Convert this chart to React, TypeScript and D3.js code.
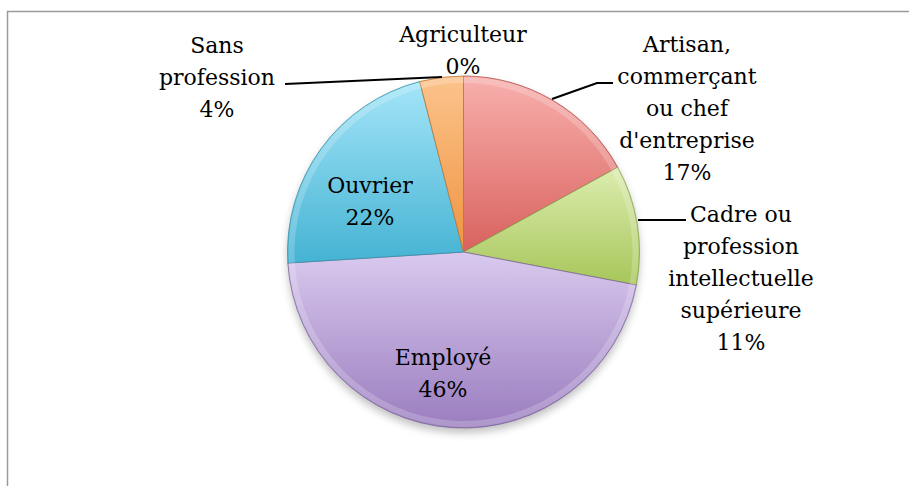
import React, { useEffect, useRef } from 'react';
import * as d3 from 'd3';

// categories, clockwise from 12 o'clock
const categories = [
  'Agriculteur',
  'Artisan, commerçant ou chef d\'entreprise',
  'Cadre ou profession intellectuelle supérieure',
  'Employé',
  'Ouvrier',
  'Sans profession',
];
const values = [0, 17, 11, 46, 22, 4];
// how each label is broken into lines
const labelLines = [
  ['Agriculteur'],
  ['Artisan,', 'commerçant', 'ou chef', "d'entreprise"],
  ['Cadre ou', 'profession', 'intellectuelle', 'supérieure'],
  ['Employé'],
  ['Ouvrier'],
  ['Sans', 'profession'],
];
const colorsTop = ['#7fa7d8', '#f8b0ad', '#dcedaf', '#d9c9ee', '#a4e5f8', '#fcc38c'];
const colorsBottom = ['#4f81bd', '#d9625e', '#a7c65a', '#9a7dbf', '#45b3d3', '#ef9440'];

const App = () => {
  const svgRef = useRef<SVGSVGElement>(null);

  useEffect(() => {
    const width = 909;
    const height = 486;
    const cx = 463.5;
    const cy = 252;
    const radius = 176;

    const svg = d3.select(svgRef.current)
      .attr('width', width)
      .attr('height', height);
    svg.selectAll('*').remove();

    svg.append('rect').attr('width', width).attr('height', height).attr('fill', '#fff');

    // chart frame (only top & left visible)
    svg.append('path')
      .attr('d', `M7.5,${height} V11.5 H${width}`)
      .attr('fill', 'none')
      .attr('stroke', '#9a9a9a')
      .attr('stroke-width', 1.5);

    const defs = svg.append('defs');
    const shadow = defs.append('filter').attr('id', 'shadow')
      .attr('x', '-20%').attr('y', '-20%').attr('width', '140%').attr('height', '140%');
    shadow.append('feGaussianBlur').attr('stdDeviation', 4);

    categories.forEach((c, i) => {
      const g = defs.append('linearGradient')
        .attr('id', `grad${i}`)
        .attr('x1', 0).attr('y1', 0).attr('x2', 0).attr('y2', 1);
      g.append('stop').attr('offset', '0%').attr('stop-color', colorsTop[i]);
      g.append('stop').attr('offset', '100%').attr('stop-color', colorsBottom[i]);
    });

    const pie = d3.pie<number>().sort(null).value(d => d);
    const arcs = pie(values);
    const arc = d3.arc<d3.PieArcDatum<number>>().innerRadius(0).outerRadius(radius);
    const bevel = d3.arc<d3.PieArcDatum<number>>().innerRadius(radius - 7).outerRadius(radius - 1);

    const root = svg.append('g').attr('transform', `translate(${cx},${cy})`);

    root.append('circle')
      .attr('cx', 0).attr('cy', 5).attr('r', radius)
      .attr('fill', '#000').attr('opacity', 0.25)
      .attr('filter', 'url(#shadow)');

    root.selectAll('.slice')
      .data(arcs)
      .enter().append('path')
      .attr('class', 'slice')
      .attr('d', arc)
      .attr('fill', (d, i) => `url(#grad${i})`)
      .attr('stroke', (d, i) => d3.color(colorsBottom[i])!.darker(0.6).formatHex())
      .attr('stroke-width', 0.8);

    // soft bevel highlight along the rim
    root.selectAll('.bevel')
      .data(arcs.filter(d => d.value > 0))
      .enter().append('path')
      .attr('class', 'bevel')
      .attr('d', bevel)
      .attr('fill', '#fff')
      .attr('opacity', 0.2);

    // labels
    const lineH = 32;
    const labelPos: [number, number][] = [
      [463, 42], [687, 52], [741, 222], [443, 365], [370, 193], [217, 53],
    ];
    const total = d3.sum(values);

    categories.forEach((c, i) => {
      const lines = [...labelLines[i], `${Math.round((values[i] / total) * 100)}%`];
      const t = svg.append('text')
        .attr('text-anchor', 'middle')
        .attr('font-family', "'DejaVu Serif', serif")
        .attr('font-size', 22)
        .attr('fill', '#000');
      lines.forEach((l, k) => {
        t.append('tspan')
          .attr('x', labelPos[i][0])
          .attr('y', labelPos[i][1] + k * lineH)
          .text(l);
      });
    });

    // leader lines
    const leaders = [
      [[552, 99], [597, 83], [613, 83]],
      [[638, 220], [686, 220]],
      [[285, 84], [442, 77]],
    ];
    leaders.forEach(pts => {
      svg.append('path')
        .attr('d', d3.line()(pts as [number, number][]))
        .attr('fill', 'none')
        .attr('stroke', '#000')
        .attr('stroke-width', 2);
    });

    return () => {
      d3.select(svgRef.current).selectAll('*').remove();
    };
  }, []);

  return (
    <svg ref={svgRef} style={{ position: 'absolute', left: 0, top: 0, display: 'block' }}></svg>
  );
};

export default App;
